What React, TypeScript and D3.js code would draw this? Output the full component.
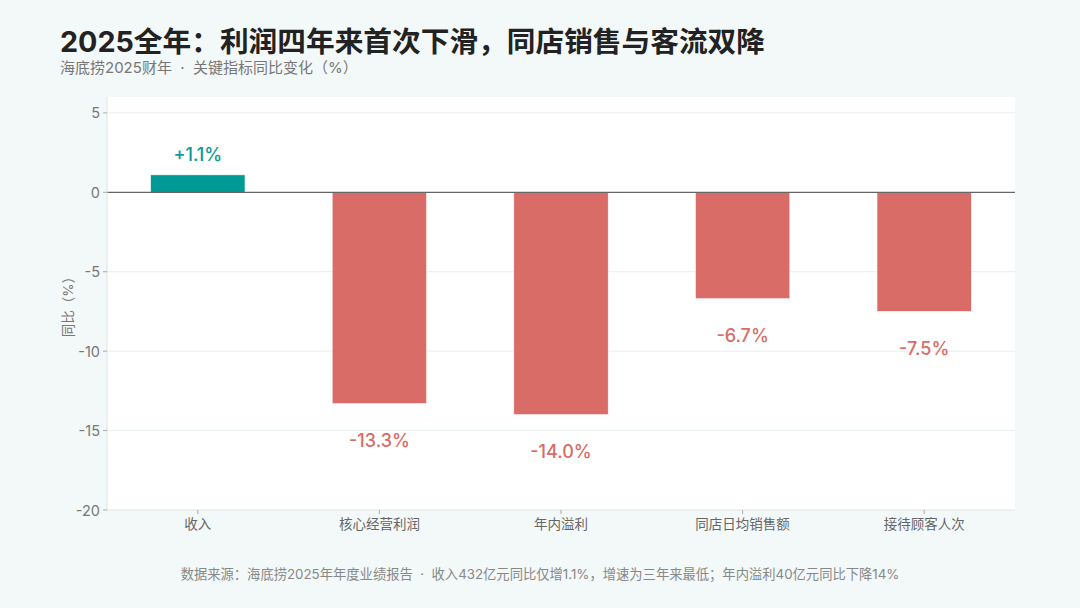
import React from "react";
import * as d3 from "d3";

const categories: string[] = ["收入", "核心经营利润", "年内溢利", "同店日均销售额", "接待顾客人次"];
const changes: number[] = [1.1, -13.3, -14.0, -6.7, -7.5];
const yTicks: number[] = [5, 0, -5, -10, -15, -20];

const FONT = 'Inter, "Noto Sans CJK SC", sans-serif';
const SEP = "\u00a0\u00a0·\u00a0\u00a0";

const App = ({
  width = 1080,
  height = 608,
  marginTop = 97,
  marginRight = 65,
  marginBottom = 98,
  marginLeft = 107,
}: {
  width?: number;
  height?: number;
  marginTop?: number;
  marginRight?: number;
  marginBottom?: number;
  marginLeft?: number;
}): React.JSX.Element => {
  const x = d3.scaleBand<string>(categories, [marginLeft, width - marginRight]).paddingInner(0.48).paddingOuter(0.24);
  const y = d3.scaleLinear([-20, 6], [height - marginBottom, marginTop]);
  const panelBottom = height - marginBottom;

  return (
    <svg width={width} height={height} style={{ position: "absolute", left: 0, top: 0, fontFamily: FONT }}>
      <rect width={width} height={height} fill="#f3f8f8" />
      <rect x={marginLeft} y={marginTop} width={width - marginLeft - marginRight} height={panelBottom - marginTop} fill="#ffffff" />

      {/* grid */}
      <g stroke="#e9eeee" strokeWidth="1">
        {yTicks.filter((t) => t !== 0 && t !== -20).map((t) => (
          <line key={t} x1={marginLeft} x2={width - marginRight} y1={y(t)} y2={y(t)} />
        ))}
      </g>

      {/* bars */}
      {changes.map((v, i) => (
        <rect
          key={categories[i]}
          x={x(categories[i])}
          width={x.bandwidth()}
          y={y(Math.max(0, v))}
          height={Math.abs(y(v) - y(0))}
          fill={v >= 0 ? "#009a96" : "#d96c66"}
          stroke="#ffffff"
          strokeWidth="0.6"
        />
      ))}

      {/* zero line */}
      <line x1={marginLeft} x2={width - marginRight} y1={y(0)} y2={y(0)} stroke="#666666" strokeWidth="1.2" />

      {/* value labels */}
      {changes.map((v, i) => (
        <text
          key={categories[i]}
          x={(x(categories[i]) as number) + x.bandwidth() / 2}
          y={v >= 0 ? y(v) - 20 : y(v) + 37}
          textAnchor="middle"
          dominantBaseline="central"
          fontSize="18"
          fontWeight="500"
          fill={v >= 0 ? "#0e9a94" : "#d96c66"}
        >
          {(v >= 0 ? "+" : "") + v.toFixed(1) + "%"}
        </text>
      ))}

      {/* axes */}
      <line x1={marginLeft} x2={marginLeft} y1={marginTop} y2={panelBottom} stroke="#dde4e4" strokeWidth="1" />
      <line x1={marginLeft} x2={width - marginRight} y1={panelBottom} y2={panelBottom} stroke="#dde4e4" strokeWidth="1" />
      {yTicks.map((t) => (
        <g key={t}>
          <line x1={marginLeft - 4} x2={marginLeft} y1={y(t)} y2={y(t)} stroke="#aaaaaa" />
          <text x={marginLeft - 7} y={y(t)} textAnchor="end" dominantBaseline="central" fontSize="14.5" fill="#777777">
            {t}
          </text>
        </g>
      ))}
      {categories.map((c) => (
        <g key={c}>
          <line
            x1={(x(c) as number) + x.bandwidth() / 2}
            x2={(x(c) as number) + x.bandwidth() / 2}
            y1={panelBottom}
            y2={panelBottom + 4}
            stroke="#aaaaaa"
          />
          <text x={(x(c) as number) + x.bandwidth() / 2} y={panelBottom + 14} textAnchor="middle" dominantBaseline="central" fontSize="13.5" fill="#666666">
            {c}
          </text>
        </g>
      ))}
      <text
        transform={`translate(68,${(marginTop + panelBottom) / 2}) rotate(-90)`}
        textAnchor="middle"
        dominantBaseline="central"
        fontSize="13.5"
        fill="#777777"
      >
        同比（%）
      </text>

      {/* titles */}
      <text x={60} y={52} fontSize="28.7" fontWeight="700" fill="#222222">
        2025全年：利润四年来首次下滑，同店销售与客流双降
      </text>
      <text x={60} y={73} fontSize="15" fill="#777777">
        {"海底捞2025财年" + SEP + "关键指标同比变化（%）"}
      </text>
      <text x={540} y={574} textAnchor="middle" dominantBaseline="central" fontSize="13.3" fill="#888888">
        {"数据来源：海底捞2025年年度业绩报告" + SEP + "收入432亿元同比仅增1.1%，增速为三年来最低；年内溢利40亿元同比下降14%"}
      </text>
    </svg>
  );
};

export default App;
